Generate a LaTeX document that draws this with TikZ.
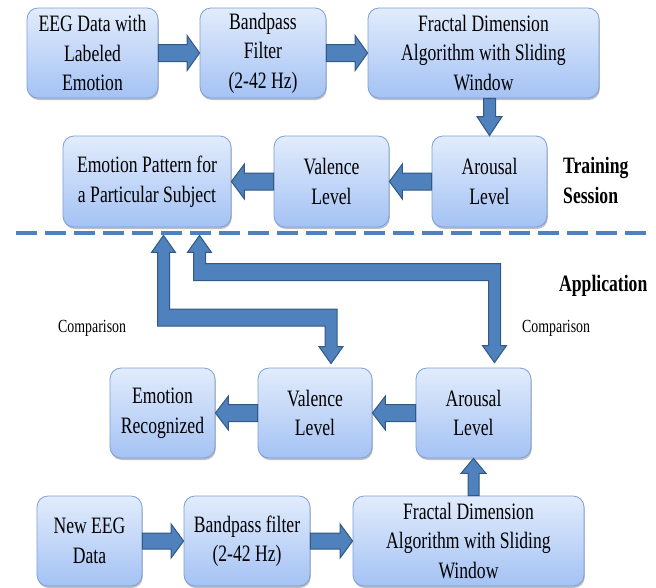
\documentclass[tikz,border=0pt]{standalone}
\usepackage{fontspec}
\setmainfont{Liberation Serif}[FakeStretch=0.75]
\usetikzlibrary{calc,shadings,shadows}
\definecolor{boxtop}{RGB}{226,236,252}
\definecolor{boxbot}{RGB}{164,194,244}
\definecolor{boxline}{RGB}{124,160,216}
\definecolor{arrfill}{RGB}{79,129,189}
\definecolor{arrline}{RGB}{52,88,132}
\tikzset{
  box/.style={draw=boxline, line width=0.8pt, rounded corners=11pt,
    top color=boxtop, bottom color=boxbot, inner sep=0pt, align=center,
    font=\fontsize{23.5}{29.5}\selectfont,
    drop shadow={shadow xshift=0.8pt, shadow yshift=-2pt, opacity=0.25, fill=black}},
  blockarr/.style={fill=arrfill, draw=arrline, line width=1pt, line join=miter},
  sidelabel/.style={font=\fontsize{23.5}{30}\selectfont\bfseries, align=left, anchor=west, inner sep=0pt},
  cmplabel/.style={font=\fontsize{18.5}{20}\selectfont, inner sep=0pt, anchor=base west},
  sepline/.style={draw=arrfill, line width=4pt, dash pattern=on 21pt off 8pt}
}
% straight block arrow: from, to, half body, half head, head length
\newcommand\blockarrow[5]{%
  \coordinate (tmpH) at ($(#2)!#5!(#1)$);
  \path[blockarr] ($(#1)!#3!90:(#2)$) -- ($(tmpH)!#3!90:(#2)$) -- ($(tmpH)!#4!90:(#2)$) -- (#2)
    -- ($(tmpH)!#4!-90:(#2)$) -- ($(tmpH)!#3!-90:(#2)$) -- ($(#1)!#3!-90:(#2)$) -- cycle;}
% elbow double block arrow: top tip, bottom tip, level of horizontal band
\newcommand\elbowarrow[3]{%
  \path[blockarr] let \p1=(#1), \p2=(#2), \p3=(#3) in
   (\x1,\y1) -- (\x1+12pt,\y1-17pt) -- (\x1+6pt,\y1-17pt) -- (\x1+6pt,\y3+8.5pt)
   -- (\x2+6pt,\y3+8.5pt) -- (\x2+6pt,\y2+17pt) -- (\x2+12pt,\y2+17pt) -- (\x2,\y2)
   -- (\x2-12pt,\y2+17pt) -- (\x2-6pt,\y2+17pt) -- (\x2-6pt,\y3-8.5pt)
   -- (\x1-6pt,\y3-8.5pt) -- (\x1-6pt,\y1-17pt) -- (\x1-12pt,\y1-17pt) -- cycle;}
\begin{document}
\begin{tikzpicture}[x=1pt,y=-1pt]
\fill[white] (0,0) rectangle (656,587);
\useasboundingbox (0,0) rectangle (656,587);

% training session boxes
\node[box, minimum width=131pt, minimum height=90pt] (eeg) at (92.5,53) {EEG Data with\\Labeled\\Emotion};
\node[box, minimum width=126pt, minimum height=90pt] (bpf) at (263,53) {Bandpass\\Filter\\(2-42 Hz)};
\node[box, minimum width=231pt, minimum height=90pt] (fd) at (483.5,53) {Fractal Dimension\\Algorithm with Sliding\\Window};
\node[box, minimum width=115pt, minimum height=91pt] (ar) at (489.5,181.5) {Arousal\\Level};
\node[box, minimum width=115pt, minimum height=91pt] (va) at (331.5,181.5) {Valence\\Level};
\node[box, minimum width=168pt, minimum height=91pt] (ep) at (147,181.5) {Emotion Pattern for\\a Particular Subject};

% application boxes
\node[box, minimum width=105pt, minimum height=90pt] (er) at (162.5,413) {Emotion\\Recognized};
\node[box, minimum width=114pt, minimum height=90pt] (va2) at (315,413) {Valence\\Level};
\node[box, minimum width=115pt, minimum height=90pt] (ar2) at (473.5,413) {Arousal\\Level};
\node[box, minimum width=105pt, minimum height=90pt] (neeg) at (89.5,541) {New EEG\\Data};
\node[box, minimum width=126pt, minimum height=90pt] (bpf2) at (247,541) {Bandpass filter\\(2-42 Hz)};
\node[box, minimum width=231pt, minimum height=90pt] (fd2) at (468.5,541) {Fractal Dimension\\Algorithm with Sliding\\Window};

% separator
\coordinate (sepL) at (16,233);
\coordinate (sepR) at (646,233);
\path[sepline] (sepL) -- (sepR);

% labels
\node[sidelabel] (train) at (563,180) {Training\\Session};
\node[sidelabel, anchor=base west] (app) at (559,291) {Application};
\node[cmplabel] (cmp1) at (58,332) {Comparison};
\node[cmplabel] (cmp2) at (522,332) {Comparison};

% training arrows
\blockarrow{eeg.east}{bpf.west}{8.5pt}{17.5pt}{12.5pt}
\blockarrow{bpf.east}{fd.west}{8.5pt}{17.5pt}{12.5pt}
\coordinate (d1s) at (ar.north |- fd.south);
\blockarrow{d1s}{ar.north}{6pt}{12.5pt}{19pt}
\blockarrow{ar.west}{va.east}{8.5pt}{17.5pt}{13pt}
\blockarrow{va.west}{ep.east}{8.5pt}{17.5pt}{13pt}

% application arrows
\blockarrow{neeg.east}{bpf2.west}{8pt}{17pt}{12.5pt}
\blockarrow{bpf2.east}{fd2.west}{8pt}{17pt}{12.5pt}
\coordinate (u1s) at (ar2.south |- fd2.north);
\blockarrow{u1s}{ar2.south}{5.5pt}{12.5pt}{15pt}
\blockarrow{ar2.west}{va2.east}{8.5pt}{17pt}{13pt}
\blockarrow{va2.west}{er.east}{8.5pt}{17pt}{13pt}

% comparison elbow arrows
\coordinate (a1) at ($(ep.south)+(16.5,8)$);
\coordinate (a2) at ($(va2.north)+(16,-4)$);
\coordinate (ah) at (0,317.5);
\elbowarrow{a1}{a2}{ah}
\coordinate (b1) at ($(ep.south)+(52.5,8)$);
\coordinate (b2) at ($(ar2.north)+(21,-5)$);
\coordinate (bh) at (0,272);
\elbowarrow{b1}{b2}{bh}
\end{tikzpicture}
\end{document}
